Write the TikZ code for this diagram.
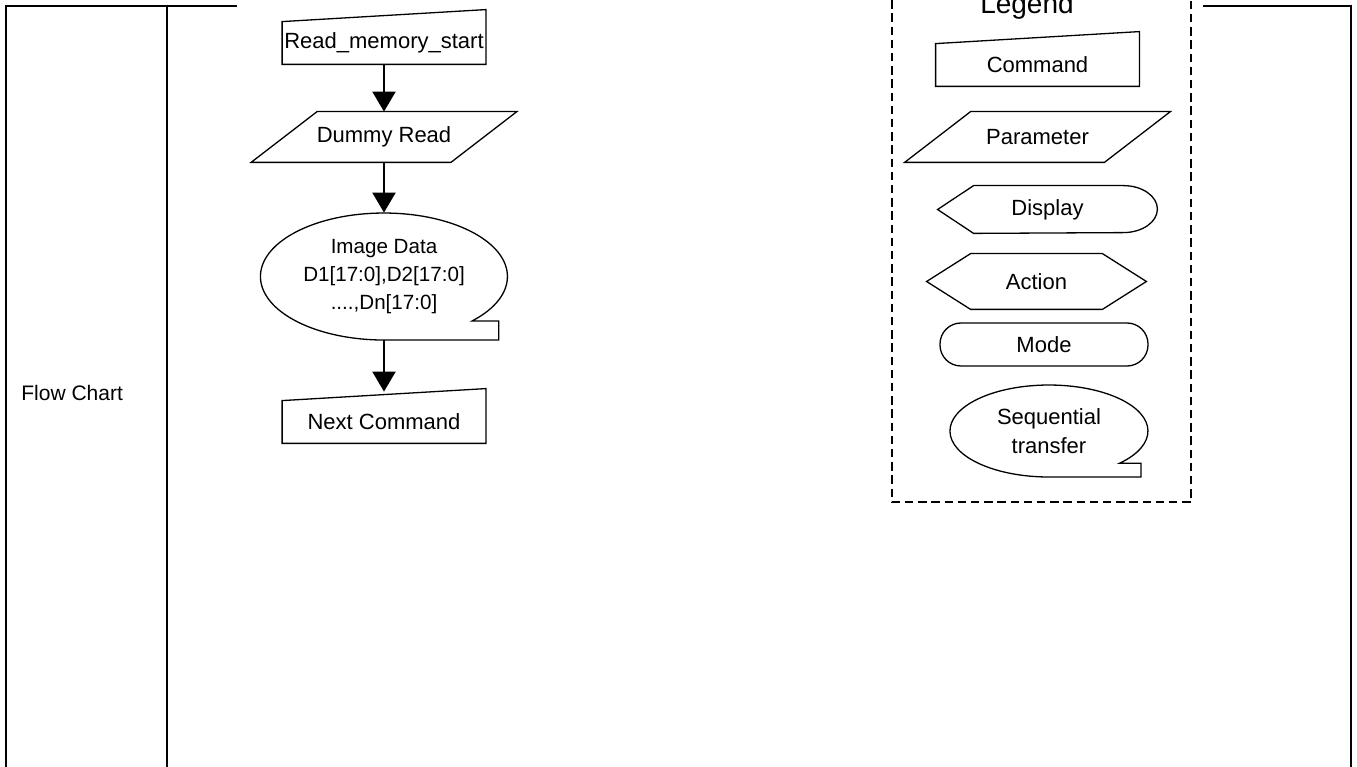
\documentclass[tikz,border=0pt]{standalone}
\usepackage{fontspec}
\setmainfont{Liberation Sans}
\usepackage{tikz}
\usetikzlibrary{arrows.meta,calc}
\tikzset{lbl/.style={font=\fontsize{11}{13}\selectfont,inner sep=0pt,align=center},outline/.style={draw=black,line width=.65pt,line join=miter},rule/.style={line width=1pt},frame/.style={line width=1.3pt,dash pattern=on 4.2pt off 2.4pt},flow/.style={-{Triangle[length=10pt,width=11.5pt]},line width=1.1pt},cmdbox/.style={lbl,minimum width=101.5pt,minimum height=21pt,append after command={\pgfextra{\draw[outline](\tikzlastnode.south west)--(\tikzlastnode.south east)--([yshift=6pt]\tikzlastnode.north east)--(\tikzlastnode.north west)--cycle;}}},parm/.style={lbl,minimum width=99.5pt,minimum height=25pt,append after command={\pgfextra{\draw[outline]([xshift=-16.5pt]\tikzlastnode.south west)--([xshift=-16.5pt]\tikzlastnode.south east)--([xshift=16.5pt]\tikzlastnode.north east)--([xshift=16.5pt]\tikzlastnode.north west)--cycle;}}},tape/.style 2 args={lbl,font=\fontsize{10.3}{14}\selectfont,minimum width=#1pt,minimum height=#2pt,append after command={\pgfextra{\draw[outline]([shift={(.714*#1,-.7*#2)}]\tikzlastnode.center)arc[start angle=-44.4,end angle=270,x radius=#1,y radius=#2]--++(.93*#1,0)--++(0,.3*#2)--cycle;}}},disp/.style={lbl,minimum width=109.5pt,minimum height=23.5pt,append after command={\pgfextra{\draw[outline](\tikzlastnode.west)--([xshift=18pt]\tikzlastnode.north west)--([xshift=-17pt]\tikzlastnode.north east)arc[start angle=90,end angle=-90,x radius=34,y radius=23.5]--([xshift=18pt]\tikzlastnode.south west)--cycle;}}},hexa/.style={lbl,minimum width=109.5pt,minimum height=27.5pt,append after command={\pgfextra{\draw[outline](\tikzlastnode.west)--([xshift=22pt]\tikzlastnode.north west)--([xshift=-22pt]\tikzlastnode.north east)--(\tikzlastnode.east)--([xshift=-22pt]\tikzlastnode.south east)--([xshift=22pt]\tikzlastnode.south west)--cycle;}}},modebox/.style={lbl,outline,rounded corners=10.5pt,minimum width=104pt,minimum height=21.5pt}}
\begin{document}
\begin{tikzpicture}[x=.5pt,y=.5pt]
        \useasboundingbox(0,0)rectangle(1357,767);
        \clip(0,0)rectangle(1357,767);
        \draw[rule](237,761)--(6,761)--(6,-5);
        \draw[rule](166.5,761)--(166.5,-5);
        \draw[rule](1203,761)-|(1351,-5);
        \node[lbl,font=\fontsize{10.5}{13}\selectfont,anchor=west](fc)at(21,374){Flow Chart};
        \node[cmdbox](rms)at(384,724){Read\_memory\_start};
        \node[parm](dummy)at(384,630){Dummy Read};
        \node[tape={123.5}{63.5}](data)at(384,490.5){Image Data\\D1[17:0],D2[17:0]\\....,Dn[17:0]};
        \node[cmdbox](next)at(384,345){Next Command};
        \draw[flow](rms.south)--(dummy.north);
        \draw[flow](dummy.south)--(data.north);
        \draw[flow,shorten >=4.5pt](data.south)--(next.north);
        \draw[frame](892,780)|-(1191,265)--(1191,780);
        \node[lbl,font=\fontsize{14}{16}\selectfont,anchor=base](legend)at(1027,753){Legend};
        \node[cmdbox](lcmd)at(1037.5,702){Command};
        \node[parm](lparm)at(1037.5,630){Parameter};
        \node[disp](ldisp)at(1047.5,557.5){Display};
        \node[hexa](lact)at(1036.5,485.5){Action};
        \node[modebox](lmode)at(1044,422.5){Mode};
        \node[tape={99}{46},font=\fontsize{11}{14.5}\selectfont](lseq)at(1049,336){Sequential\\transfer};
      \end{tikzpicture}
\end{document}
